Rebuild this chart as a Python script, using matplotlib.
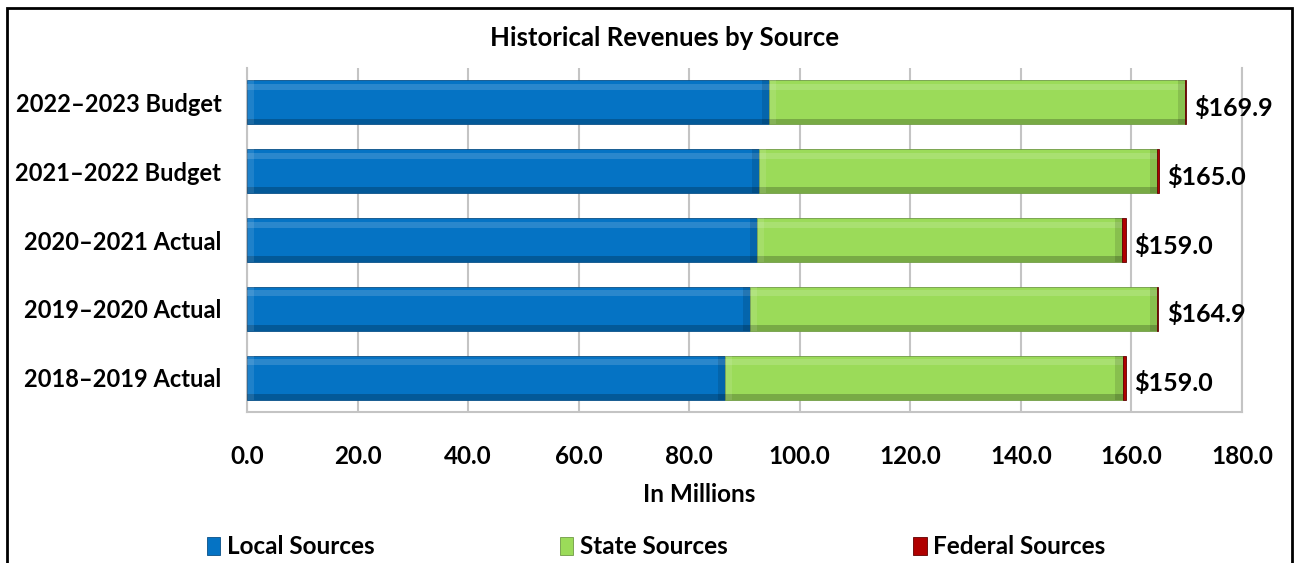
import matplotlib
matplotlib.use("Agg")
import matplotlib.pyplot as plt
import matplotlib.patches as patches
import numpy as np

# data (in millions)
years = ["2018\u20132019 Actual", "2019\u20132020 Actual", "2020\u20132021 Actual",
         "2021\u20132022 Budget", "2022\u20132023 Budget"]
local = [86.5, 91.0, 92.3, 92.6, 94.4]
state = [71.9, 73.6, 66.0, 72.1, 75.3]
federal = [0.6, 0.3, 0.7, 0.3, 0.2]
totals = [159.0, 164.9, 159.0, 165.0, 169.9]
series_names = ["Local Sources", "State Sources", "Federal Sources"]

colors = ["#0573C4", "#9BDB59", "#B00000"]
edges = ["#0a4f86", "#6f9a45", "#600000"]

plt.rcParams['font.family'] = ['Lato', 'DejaVu Sans']
plt.rcParams['font.weight'] = 'bold'

fig = plt.figure(figsize=(12.96, 5.63), dpi=100)
ax = fig.add_axes([0.1906, 0.2682, 0.9583 - 0.1906, 0.8792 - 0.2682])

y = np.arange(len(years))
h = 0.64
left = np.zeros(len(years))
handles = []
for vals, c, ec, name in zip([local, state, federal], colors, edges, series_names):
    bars = ax.barh(y, vals, height=h, left=left, color=c, edgecolor=ec,
                   linewidth=0.6, label=name, zorder=3)
    handles.append(bars)
    # simple bevel look: light band on top, dark band at bottom
    for b in bars:
        x0, y0, w, hh = b.get_x(), b.get_y(), b.get_width(), b.get_height()
        if w < 1:
            continue
        ax.add_patch(patches.Rectangle((x0, y0 + hh * 0.78), w, hh * 0.14,
                                       facecolor="white", alpha=0.15, lw=0, zorder=4))
        ax.add_patch(patches.Rectangle((x0, y0), w, hh * 0.13,
                                       facecolor="black", alpha=0.22, lw=0, zorder=4))
        ax.add_patch(patches.Rectangle((x0 + w - 1.3, y0), 1.3, hh,
                                       facecolor="black", alpha=0.12, lw=0, zorder=4))
        ax.add_patch(patches.Rectangle((x0, y0), 1.3, hh,
                                       facecolor="white", alpha=0.10, lw=0, zorder=4))
    left = left + np.array(vals)

for yi, t in zip(y, totals):
    ax.text(t + 1.5, yi - 0.08, "${:.1f}".format(t), va="center", ha="left",
            fontsize=18, fontweight="bold", zorder=5)

ax.set_xlim(0, 180)
ax.set_ylim(-0.5, 4.5)
ax.set_xticks(np.arange(0, 181, 20))
ax.set_xticklabels(["{:.1f}".format(v) for v in np.arange(0, 181, 20)])
ax.set_yticks(y)
ax.set_yticklabels(years)
ax.tick_params(axis="both", length=0)
ax.tick_params(axis="y", pad=18.5, labelsize=17)
ax.tick_params(axis="x", pad=24, labelsize=17.5)
ax.grid(axis="x", color="#c4c4c4", linewidth=1.5, zorder=0)
ax.set_axisbelow(True)
for s in ["left", "bottom", "right"]:
    ax.spines[s].set_color("#c4c4c4")
    ax.spines[s].set_linewidth(1.5)
ax.spines["top"].set_visible(False)

fig.text(665 / 1296, 1 - 38 / 563, "Historical Revenues by Source", ha="center",
         va="center", fontsize=18.5, fontweight="bold")
fig.text(699 / 1296, 1 - 495 / 563, "In Millions", ha="center", va="center",
         fontsize=17.5, fontweight="bold")

fig.legend(handles, series_names, loc="center", bbox_to_anchor=(656 / 1296, 1 - 547 / 563),
           ncol=3, frameon=False, fontsize=17.5, handlelength=0.55, handleheight=0.75,
           handletextpad=0.25, columnspacing=7.65)

fig.patches.append(patches.Rectangle((7 / 1296, -0.1), 1285 / 1296, 1.1 - 8 / 563,
                                     transform=fig.transFigure, fill=False,
                                     edgecolor="black", linewidth=2))

plt.savefig("out.png", dpi=100)
plt.close()
